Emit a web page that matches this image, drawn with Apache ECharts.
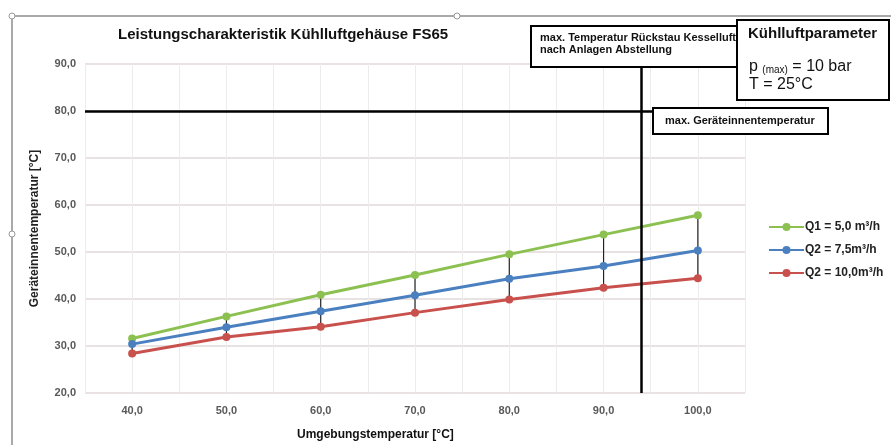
<!DOCTYPE html>
<html>
<head>
<meta charset="utf-8">
<script src="https://cdn.jsdelivr.net/npm/echarts@6/dist/echarts.min.js"></script>
<style>
  html, body { margin: 0; padding: 0; background: #fff; }
  #chart { width: 891px; height: 445px; }
</style>
</head>
<body>
<div id="chart"></div>
<script>
// Umgebungstemperatur [°C]
var ambientTemps = [40, 50, 60, 70, 80, 90, 100];
// Geräteinnentemperatur [°C] je Volumenstrom
var q1Values = [31.6, 36.3, 40.9, 45.1, 49.5, 53.7, 57.8];
var q2Values = [30.4, 34.0, 37.4, 40.8, 44.3, 47.0, 50.3];
var q3Values = [28.4, 31.9, 34.1, 37.1, 39.9, 42.4, 44.4];
var seriesNames = ['Q1 = 5,0 m³/h', 'Q2 = 7,5m³/h', 'Q2 = 10,0m³/h'];
// Grenzwerte
var maxInnerTemp = 80;      // max. Geräteinnentemperatur
var maxBackflowTemp = 94;   // max. Temperatur Rückstau Kesselluft

var fontFam = 'Liberation Sans, Arial, sans-serif';

function fmt(v) {
  return v.toFixed(1).replace('.', ',');
}
function pairs(vals) {
  return ambientTemps.map(function (x, i) { return [x, vals[i]]; });
}

var chart = echarts.init(document.getElementById('chart'));

var option = {
  backgroundColor: '#fff',
  animation: false,
  textStyle: { fontFamily: fontFam },
  grid: { left: 85, right: 146, top: 64, bottom: 52 },
  xAxis: {
    type: 'value',
    min: 35,
    max: 105,
    interval: 5,
    axisLine: { show: false },
    axisTick: { show: false },
    axisLabel: {
      margin: 12,
      color: '#595959',
      fontWeight: 'bold',
      fontSize: 11,
      fontFamily: fontFam,
      formatter: function (v) { return v % 10 === 0 ? fmt(v) : ''; }
    },
    splitLine: { show: true, lineStyle: { color: '#ececec', width: 1 } }
  },
  yAxis: {
    type: 'value',
    min: 20,
    max: 90,
    interval: 10,
    name: 'Geräteinnentemperatur [°C]',
    nameLocation: 'middle',
    nameGap: 44,
    nameTextStyle: { color: '#222', fontWeight: 'bold', fontSize: 12, fontFamily: fontFam },
    axisLine: { show: false },
    axisTick: { show: false },
    axisLabel: {
      margin: 9,
      color: '#595959',
      fontWeight: 'bold',
      fontSize: 11,
      fontFamily: fontFam,
      formatter: fmt
    },
    splitLine: { lineStyle: { color: '#e2d9d9', width: 1.5 } }
  },
  legend: {
    orient: 'vertical',
    left: 763,
    top: 216,
    itemWidth: 35,
    itemHeight: 10,
    itemGap: 11,
    data: seriesNames,
    textStyle: { color: '#222', fontWeight: 'bold', fontSize: 12, fontFamily: fontFam, padding: [0, 0, 0, -4] }
  },
  series: [
    {
      // Verbindungslinien zwischen höchstem und niedrigstem Wert
      type: 'custom',
      silent: true,
      z: 1,
      data: ambientTemps.map(function (x, i) { return [x, q1Values[i], q3Values[i]]; }),
      renderItem: function (params, api) {
        var p1 = api.coord([api.value(0), api.value(1)]);
        var p2 = api.coord([api.value(0), api.value(2)]);
        return {
          type: 'line',
          shape: { x1: p1[0], y1: p1[1], x2: p2[0], y2: p2[1] },
          style: { stroke: '#222', lineWidth: 1.2 }
        };
      }
    },
    {
      name: seriesNames[0],
      type: 'line',
      z: 3,
      data: pairs(q1Values),
      symbol: 'circle',
      symbolSize: 8,
      color: '#8cc152',
      lineStyle: { width: 3 }
    },
    {
      name: seriesNames[1],
      type: 'line',
      z: 3,
      data: pairs(q2Values),
      symbol: 'circle',
      symbolSize: 8,
      color: '#4a7fc0',
      lineStyle: { width: 3 }
    },
    {
      name: seriesNames[2],
      type: 'line',
      z: 3,
      data: pairs(q3Values),
      symbol: 'circle',
      symbolSize: 8,
      color: '#c8504d',
      lineStyle: { width: 3 },
      markLine: {
        silent: true,
        symbol: 'none',
        label: { show: false },
        lineStyle: { color: '#000', width: 2.5, type: 'solid' },
        data: [
          [{ coord: [35, maxInnerTemp] }, { coord: [105, maxInnerTemp] }],
          [{ coord: [maxBackflowTemp, 20] }, { coord: [maxBackflowTemp, 90] }]
        ]
      }
    }
  ],
  graphic: [
    // Diagrammrahmen
    { type: 'line', shape: { x1: 12, y1: 16, x2: 891, y2: 16 }, style: { stroke: '#8c8c8c', lineWidth: 1.5 }, zlevel: 1 },
    { type: 'line', shape: { x1: 12, y1: 16, x2: 12, y2: 445 }, style: { stroke: '#8c8c8c', lineWidth: 1.5 }, zlevel: 1 },
    { type: 'circle', shape: { cx: 12, cy: 16, r: 3 }, style: { fill: '#fff', stroke: '#999', lineWidth: 1 }, zlevel: 1, z: 2 },
    { type: 'circle', shape: { cx: 457, cy: 16, r: 3 }, style: { fill: '#fff', stroke: '#999', lineWidth: 1 }, zlevel: 1, z: 2 },
    { type: 'circle', shape: { cx: 12, cy: 234, r: 3 }, style: { fill: '#fff', stroke: '#999', lineWidth: 1 }, zlevel: 1, z: 2 },
    // Titel
    {
      type: 'text', left: 118, top: 27,
      style: { text: 'Leistungscharakteristik Kühlluftgehäuse FS65', fill: '#111', font: 'bold 15px ' + fontFam }
    },
    // X-Achsentitel
    {
      type: 'text', left: 297, top: 429,
      style: { text: 'Umgebungstemperatur [°C]', fill: '#111', font: 'bold 12px ' + fontFam }
    },
    // Box Rückstau
    { type: 'rect', zlevel: 1, z: 1, shape: { x: 531, y: 26, width: 206, height: 41 }, style: { fill: '#fff', stroke: '#000', lineWidth: 2 } },
    {
      type: 'text', zlevel: 1, z: 3, x: 540, y: 32,
      style: { text: 'max. Temperatur Rückstau Kesselluft\nnach Anlagen Abstellung', fill: '#111', font: 'bold 11px ' + fontFam, lineHeight: 12 }
    },
    // Box Kühlluftparameter
    { type: 'rect', zlevel: 1, z: 4, shape: { x: 737, y: 20, width: 152, height: 80 }, style: { fill: '#fff', stroke: '#000', lineWidth: 2 } },
    { type: 'text', zlevel: 1, z: 5, x: 748, y: 26, style: { text: 'Kühlluftparameter', fill: '#111', font: 'bold 15px ' + fontFam } },
    {
      type: 'text', zlevel: 1, z: 5, x: 749, y: 59,
      style: {
        text: '{b|p }{s|(max)}{b| = 10 bar}',
        rich: {
          b: { fontSize: 16, fontFamily: fontFam, fill: '#111', lineHeight: 16 },
          s: { fontSize: 10, fontFamily: fontFam, fill: '#111', lineHeight: 16, verticalAlign: 'bottom', padding: [5, 0, 0, 0] }
        }
      }
    },
    { type: 'text', zlevel: 1, z: 5, x: 749, y: 77, style: { text: 'T = 25°C', fill: '#111', font: '16px ' + fontFam } },
    // Box Geräteinnentemperatur
    { type: 'rect', zlevel: 1, z: 1, shape: { x: 653, y: 108, width: 175, height: 26 }, style: { fill: '#fff', stroke: '#000', lineWidth: 2 } },
    { type: 'text', zlevel: 1, z: 3, x: 665, y: 115, style: { text: 'max. Geräteinnentemperatur', fill: '#111', font: 'bold 11px ' + fontFam } }
  ]
};

chart.setOption(option);
</script>
</body>
</html>
